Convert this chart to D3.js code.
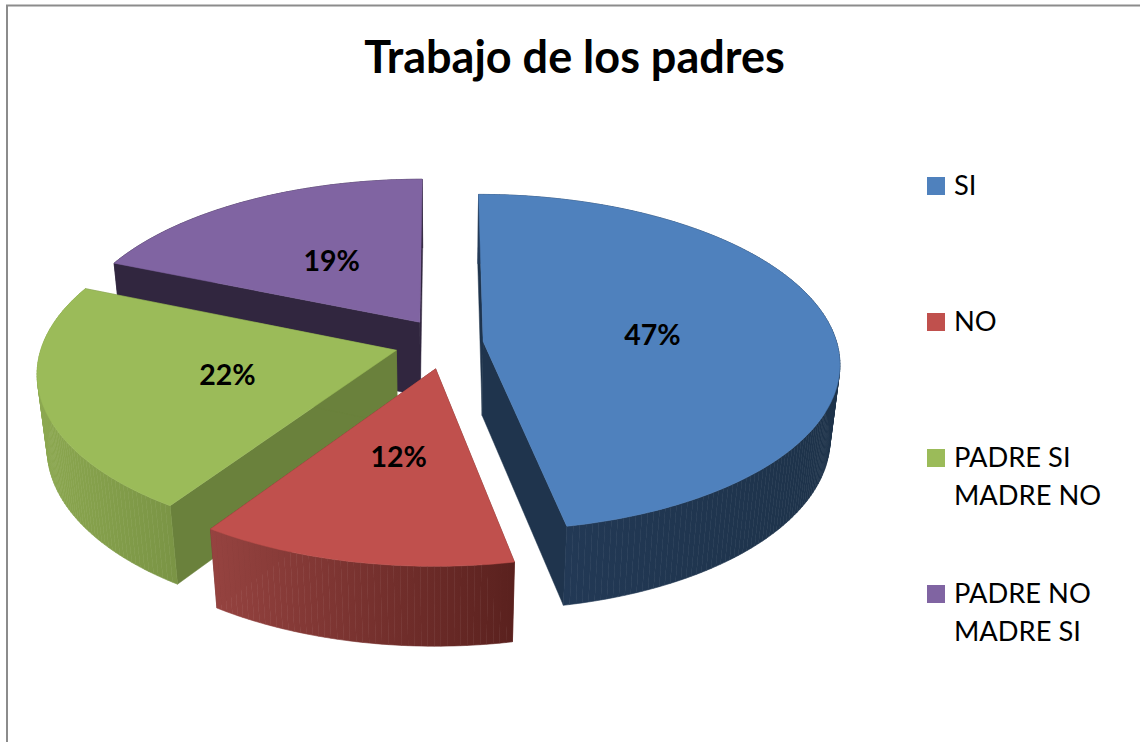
<!DOCTYPE html>
<html>
<head>
<meta charset="utf-8">
<script src="https://cdn.jsdelivr.net/npm/d3@7/dist/d3.min.js"></script>
<style>
html,body{margin:0;padding:0;background:#fff;overflow:hidden}
svg{display:block}
text{font-family:Lato,"Open Sans",sans-serif;fill:#000}
</style>
</head>
<body>
<svg id="chart" width="1140" height="742"></svg>
<script>
const chartTitle = "Trabajo de los padres";
const categories = ["SI", "NO", "PADRE SI MADRE NO", "PADRE NO MADRE SI"];
const legendLines = [["SI"], ["NO"], ["PADRE SI", "MADRE NO"], ["PADRE NO", "MADRE SI"]];
const values = [46.9, 12.49, 21.91, 18.7];
const topColors = ["#4f81bd", "#c0504d", "#9bbb59", "#8064a2"];
const cutColors = ["#1f344d", "#6b2e2c", "#6a813c", "#31263f"];
const wallLeft  = ["#243b59", "#964340", "#8ca850", "#31263f"];
const wallRight = ["#1d3249", "#5a211e", "#7a9445", "#31263f"];
const pullU = [0.117, 0.09, 0.134, 0.115];
const pullV = [0.16, 0.15, 0.13, 0.16];
const drawOrder = [3, 2, 0, 1];

const svg = d3.select("#chart");
const defs = svg.append("defs");

svg.append("path").attr("d", "M7,742V5.5H1140").attr("fill", "none")
  .attr("stroke", "#8c8c8c").attr("stroke-width", 2);

svg.append("text").attr("x", 574.5).attr("y", 73).attr("text-anchor", "middle")
  .attr("font-size", 45).attr("font-weight", 700).text(chartTitle);

// Perspective projection of a tilted disc: u right, v toward viewer, z downward
const cx = 442, cy = 344, R = 354, kR = 166, H = 76, persp = 0.125, conv = 0.025;
function project(u, v, z) {
  const s = 1 / (1 - persp * v + conv * z);
  return [cx + R * u * s, cy + (kR * v + H * z) * s];
}

const pie = d3.pie().sort(null).startAngle(0).endAngle(2 * Math.PI);
const slices = pie(values);
const line = d3.line();

function sliceGeom(d, i) {
  const mid = (d.startAngle + d.endAngle) / 2;
  const ou = pullU[i] * Math.sin(mid), ov = -pullV[i] * Math.cos(mid);
  const at = (a, r, z) => project(ou + r * Math.sin(a), ov - r * Math.cos(a), z);
  const n = Math.ceil((d.endAngle - d.startAngle) * 60);
  const angles = d3.range(n + 1).map(k => d.startAngle + (d.endAngle - d.startAngle) * k / n);
  return {mid, at, angles};
}

drawOrder.forEach(i => {
  const d = slices[i];
  const {at, angles} = sliceGeom(d, i);
  const topArc = angles.map(a => at(a, 1, 0));
  const botArc = angles.map(a => at(a, 1, 1));
  const g = svg.append("g");
  const apexT = at(0, 0, 0), apexB = at(0, 0, 1);

  [d.startAngle, d.endAngle].forEach(a => {
    g.append("path").attr("fill", cutColors[i]).attr("stroke", cutColors[i]).attr("stroke-width", 0.5)
      .attr("d", line([apexT, at(a, 1, 0), at(a, 1, 1), apexB]) + "Z");
  });

  const xs = d3.extent(topArc.concat(botArc), p => p[0]);
  const grad = defs.append("linearGradient").attr("id", "wall" + i)
    .attr("gradientUnits", "userSpaceOnUse")
    .attr("x1", xs[0]).attr("x2", xs[1]).attr("y1", 0).attr("y2", 0);
  grad.append("stop").attr("offset", 0).attr("stop-color", wallLeft[i]);
  grad.append("stop").attr("offset", 1).attr("stop-color", wallRight[i]);
  // Outer wall as strips, so its silhouette follows the straight edges of the drum
  g.append("g").selectAll("path").data(d3.range(angles.length - 1)).join("path")
    .attr("fill", `url(#wall${i})`).attr("stroke", `url(#wall${i})`).attr("stroke-width", 0.6)
    .attr("d", k => line([topArc[k], topArc[k + 1], botArc[k + 1], botArc[k]]) + "Z");

  g.append("path").attr("fill", topColors[i])
    .attr("stroke", topColors[i]).attr("stroke-width", 0.5)
    .attr("d", line([apexT].concat(topArc)) + "Z");
});

slices.forEach((d, i) => {
  const {mid, at} = sliceGeom(d, i);
  const p = at(mid, 0.485, 0);
  svg.append("text").attr("x", p[0]).attr("y", p[1] + 11).attr("text-anchor", "middle")
    .attr("font-size", 28.5).attr("font-weight", 700)
    .text(d3.format(".0f")(d.data) + "%");
});

const legendY = d3.scalePoint().domain(categories).range([186, 594]);
categories.forEach((c, i) => {
  const y = legendY(c);
  svg.append("rect").attr("x", 927).attr("y", y - 9).attr("width", 18).attr("height", 18)
    .attr("fill", topColors[i]);
  legendLines[i].forEach((t, j) => {
    svg.append("text").attr("x", 954).attr("y", y + 9 + j * 38)
      .attr("font-size", 27.3).text(t);
  });
});
</script>
</body>
</html>
